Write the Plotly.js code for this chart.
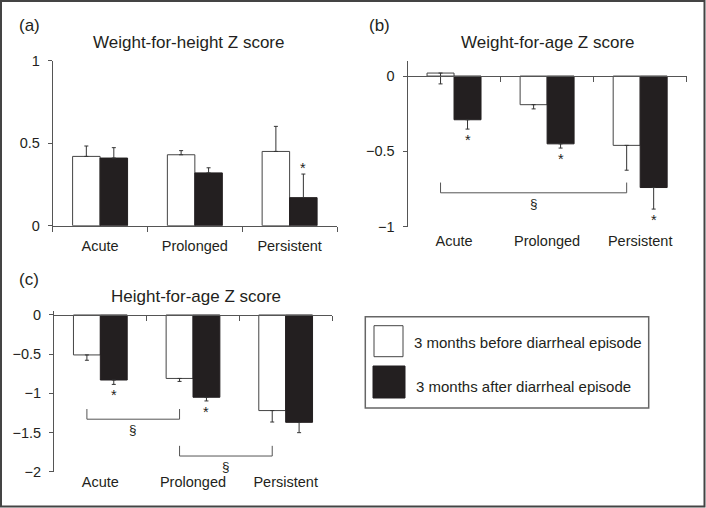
<!DOCTYPE html>
<html><head><meta charset="utf-8">
<script src="https://cdn.plot.ly/plotly-3.0.1.min.js"></script>
<style>html,body{margin:0;padding:0;background:#fff}#chart{width:706px;height:508px}</style>
</head><body><div id="chart"></div>
<script>
// ---------- data ----------
const categories = ['Acute', 'Prolonged', 'Persistent'];
const seriesNames = ['3 months before diarrheal episode', '3 months after diarrheal episode'];

// (a) Weight-for-height Z score
const whzBefore = [0.42, 0.43, 0.45];
const whzBeforeErr = [0.063, 0.025, 0.152];
const whzAfter = [0.41, 0.32, 0.17];
const whzAfterErr = [0.063, 0.031, 0.143];
const whzStars = [false, false, true];

// (b) Weight-for-age Z score
const wazBefore = [0.02, -0.19, -0.46];
const wazBeforeErr = [0.072, 0.028, 0.165];
const wazAfter = [-0.29, -0.45, -0.74];
const wazAfterErr = [0.062, 0.028, 0.143];
const wazStars = [true, true, true];
const wazBrackets = [[0, 2, -0.775]];

// (c) Height-for-age Z score
const hazBefore = [-0.51, -0.81, -1.22];
const hazBeforeErr = [0.068, 0.038, 0.146];
const hazAfter = [-0.83, -1.05, -1.37];
const hazAfterErr = [0.056, 0.047, 0.132];
const hazStars = [true, true, false];
const hazBrackets = [[0, 1, -1.33], [1, 2, -1.80]];

const panelTitles = ['Weight-for-height Z score', 'Weight-for-age Z score', 'Height-for-age Z score'];
const panelLetters = ['(a)', '(b)', '(c)'];

// ---------- style ----------
const W = 706, H = 508;
const FONT = 'Liberation Sans, Arial, sans-serif';
const TXT = '#231f20';
const AX = '#555555';
const BLACK = '#231f20';
const px = x => x / W;
const py = y => 1 - y / H;

const panels = [
  {xa: 'x', ya: 'y', dom: [52.7, 337, 60.7, 225.7], range: [0, 1], tv: [0, 0.5, 1],
   before: whzBefore, bErr: whzBeforeErr, after: whzAfter, aErr: whzAfterErr, stars: whzStars, brackets: [], dir: 'up',
   labelStand: 7, bh: 0},
  {xa: 'x2', ya: 'y2', dom: [407.5, 686.7, 61, 226.7], range: [-1, 0.1], tv: [0, -0.5, -1],
   before: wazBefore, bErr: wazBeforeErr, after: wazAfter, aErr: wazAfterErr, stars: wazStars, brackets: wazBrackets, dir: 'down',
   labelStand: 4, bh: 0.068},
  {xa: 'x3', ya: 'y3', dom: [54, 332, 310.5, 471.7], range: [-2, 0.057], tv: [0, -0.5, -1, -1.5, -2],
   before: hazBefore, bErr: hazBeforeErr, after: hazAfter, aErr: hazAfterErr, stars: hazStars, brackets: hazBrackets, dir: 'down',
   labelStand: 2.5, bh: 0.13}
];
const titlePos = [[188, 43], [548, 43], [196, 296.7]];
const letterPos = [[17, 25], [367, 25], [17, 279.5]];

const bargap = 0.42;
const off = (1 - bargap) / 4; // offset of each bar from category centre
const TICKF = 14.5;

const traces = [];
const layout = {
  width: W, height: H, margin: {l: 0, r: 0, t: 0, b: 0},
  paper_bgcolor: '#fff', plot_bgcolor: 'rgba(0,0,0,0)',
  font: {family: FONT, color: TXT, size: 14},
  showlegend: false, barmode: 'group', bargap: bargap, bargroupgap: 0,
  annotations: [], shapes: []
};

const zeros = categories.map(() => 0);

panels.forEach((p, k) => {
  const errOf = (errs) => ({
    type: 'data', symmetric: false, visible: true,
    array: p.dir === 'up' ? errs : zeros,
    arrayminus: p.dir === 'down' ? errs : zeros,
    color: '#333', thickness: 1, width: 2
  });
  traces.push({
    type: 'bar', x: categories, y: p.before, name: seriesNames[0], xaxis: p.xa, yaxis: p.ya,
    marker: {color: '#ffffff', line: {color: '#444', width: 1}}, error_y: errOf(p.bErr), hoverinfo: 'x+y+name'
  });
  traces.push({
    type: 'bar', x: categories, y: p.after, name: seriesNames[1], xaxis: p.xa, yaxis: p.ya,
    marker: {color: BLACK, line: {color: BLACK, width: 1}}, error_y: errOf(p.aErr), hoverinfo: 'x+y+name'
  });

  const xd = [px(p.dom[0]), px(p.dom[1])];
  const yd = [py(p.dom[3]), py(p.dom[2])];
  const zeroPos = yd[0] + (0 - p.range[0]) / (p.range[1] - p.range[0]) * (yd[1] - yd[0]);
  const sfx = k === 0 ? '' : String(k + 1);
  const tf = {family: FONT, size: TICKF, color: TXT};

  if (k === 0) {
    // zero is the bottom of the range: one axis carries line, ticks and labels
    layout.xaxis = {
      domain: xd, anchor: 'y', type: 'category', range: [-0.5, 2.5],
      showline: true, linecolor: AX, linewidth: 1, ticks: 'outside', tickson: 'boundaries', ticklen: 5,
      tickcolor: AX, tickwidth: 1, showgrid: false, zeroline: false,
      tickfont: tf, ticklabelstandoff: p.labelStand, fixedrange: true
    };
  } else {
    // category labels at the bottom of the panel
    layout['xaxis' + sfx] = {
      domain: xd, anchor: p.ya, type: 'category', range: [-0.5, 2.5],
      showline: false, ticks: '', showgrid: false, zeroline: false,
      tickfont: tf, ticklabelstandoff: p.labelStand, fixedrange: true
    };
    // axis line with boundary ticks at y = 0
    const ov = 'xaxis' + (k + 3);
    layout[ov] = {
      overlaying: p.xa, anchor: 'free', position: zeroPos, type: 'linear', range: [-0.5, 2.5],
      tickvals: [0.5, 1.5, 2.5], showticklabels: false,
      showline: true, linecolor: AX, linewidth: 1, ticks: 'outside', ticklen: 5, tickcolor: AX, tickwidth: 1,
      showgrid: false, zeroline: false, fixedrange: true
    };
    traces.push({type: 'scatter', mode: 'markers', x: [], y: [], xaxis: 'x' + (k + 3), yaxis: p.ya,
      showlegend: false, hoverinfo: 'skip'});
  }
  layout['yaxis' + sfx] = {
    domain: yd, anchor: p.xa, range: p.range, tickvals: p.tv,
    showline: true, linecolor: AX, linewidth: 1, ticks: 'outside', ticklen: 4, tickcolor: AX,
    showgrid: false, zeroline: false, tickfont: tf,
    ticklabelstandoff: 5, fixedrange: true
  };

  // significance stars on "after" bars
  p.stars.forEach((s, i) => {
    if (!s) return;
    const v = p.after[i];
    const end = p.dir === 'up' ? v + p.aErr[i] : v - p.aErr[i];
    layout.annotations.push({
      xref: p.xa, yref: p.ya, x: i + off, y: end, text: '*', showarrow: false,
      yanchor: p.dir === 'up' ? 'bottom' : 'top', yshift: p.dir === 'up' ? -4 : -1,
      font: {family: FONT, size: 14.5, color: TXT}
    });
  });

  // brackets between groups (from "before" bar centre to "before" bar centre)
  p.brackets.forEach(b => {
    const x0 = b[0] - off, x1 = b[1] - off, y = b[2];
    const ln = {color: AX, width: 1};
    layout.shapes.push({type: 'line', xref: p.xa, yref: p.ya, x0: x0, x1: x1, y0: y, y1: y, line: ln});
    layout.shapes.push({type: 'line', xref: p.xa, yref: p.ya, x0: x0, x1: x0, y0: y, y1: y + p.bh, line: ln});
    layout.shapes.push({type: 'line', xref: p.xa, yref: p.ya, x0: x1, x1: x1, y0: y, y1: y + p.bh, line: ln});
    layout.annotations.push({
      xref: p.xa, yref: p.ya, x: (x0 + x1) / 2, y: y, text: '§', showarrow: false,
      yanchor: 'top', yshift: -1, font: {family: FONT, size: 13.5, color: TXT}
    });
  });

  layout.annotations.push({
    xref: 'paper', yref: 'paper', x: px(titlePos[k][0]), y: py(titlePos[k][1]), text: panelTitles[k],
    showarrow: false, xanchor: 'center', yanchor: 'middle', font: {family: FONT, size: 17, color: TXT}
  });
  layout.annotations.push({
    xref: 'paper', yref: 'paper', x: px(letterPos[k][0]), y: py(letterPos[k][1]), text: panelLetters[k],
    showarrow: false, xanchor: 'left', yanchor: 'middle', font: {family: FONT, size: 17, color: TXT}
  });
});

// ---------- legend (drawn as a boxed key) ----------
layout.shapes.push({type: 'rect', xref: 'paper', yref: 'paper', x0: px(365.3), x1: px(648.7), y0: py(408), y1: py(316.7),
  line: {color: '#666', width: 1.5}, fillcolor: 'rgba(0,0,0,0)'});
layout.shapes.push({type: 'rect', xref: 'paper', yref: 'paper', x0: px(374), x1: px(403), y0: py(356.7), y1: py(325.7),
  line: {color: '#444', width: 1}, fillcolor: '#ffffff'});
layout.shapes.push({type: 'rect', xref: 'paper', yref: 'paper', x0: px(373), x1: px(405), y0: py(398), y1: py(366),
  line: {color: BLACK, width: 1}, fillcolor: BLACK});
layout.annotations.push({xref: 'paper', yref: 'paper', x: px(411.5), y: py(342), text: seriesNames[0], showarrow: false,
  xanchor: 'left', yanchor: 'middle', font: {family: FONT, size: 15, color: TXT}});
layout.annotations.push({xref: 'paper', yref: 'paper', x: px(413.5), y: py(386), text: seriesNames[1], showarrow: false,
  xanchor: 'left', yanchor: 'middle', font: {family: FONT, size: 15, color: TXT}});

// ---------- outer frame ----------
layout.shapes.push({type: 'rect', xref: 'paper', yref: 'paper', x0: px(1), x1: px(704.5), y0: py(506.5), y1: py(1),
  line: {color: '#444', width: 2}, fillcolor: 'rgba(0,0,0,0)'});

Plotly.newPlot('chart', traces, layout, {displayModeBar: false, staticPlot: true});
</script>
</body></html>
